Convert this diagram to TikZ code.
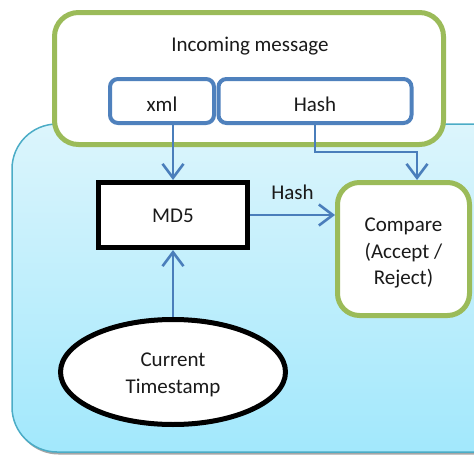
\documentclass[tikz,border=0pt]{standalone}
\usepackage{fontspec}
\setmainfont{Carlito}
\usetikzlibrary{arrows.meta,shapes.geometric,shadows}

\definecolor{msggreen}{HTML}{9BBB59}
\definecolor{partblue}{HTML}{4F81BD}
\definecolor{linkblue}{HTML}{4A7EBB}
\definecolor{zoneedge}{HTML}{4BACC6}
\definecolor{zonetop}{HTML}{DCF5FC}
\definecolor{zonebot}{HTML}{A2E8FC}
\definecolor{inktext}{HTML}{1A1A1A}

\tikzset{
  txt/.style={font=\fontsize{21}{26.5}\selectfont, text=inktext, align=center, inner sep=0pt},
  greenbox/.style={draw=msggreen, line width=5pt, fill=white, inner sep=0pt},
  partbox/.style={draw=partblue, line width=4pt, fill=white, rounded corners=8pt, inner sep=0pt},
  blackbox/.style={draw=black, line width=5pt, fill=white, inner sep=0pt},
  link/.style={draw=linkblue, line width=2.6pt,
    -{Straight Barb[length=14pt,width=21pt,line width=2.6pt]}},
}

\begin{document}
\begin{tikzpicture}[x=1pt, y=-1pt]
  \useasboundingbox (0,0) rectangle (474,455);
  \clip (0,0) rectangle (474,455);

  % processing zone
  \path[draw=zoneedge, line width=1.5pt, rounded corners=45pt,
        top color=zonetop, bottom color=zonebot,
        drop shadow={shadow xshift=1.5pt, shadow yshift=-2.5pt, fill=gray, opacity=0.7}]
    (12,124) rectangle (520,452);

  % incoming message with its two parts
  \node[greenbox, rounded corners=24pt, minimum width=389pt, minimum height=132pt]
    (msg) at (249,78.5) {};
  \node[txt] (title) at (250,46) {Incoming message};
  \node[partbox, minimum width=104pt, minimum height=44pt] (xml) at (162,101) {};
  \node[partbox, minimum width=193pt, minimum height=44pt] (hash) at (315,101) {};
  \node[txt] (xmltext) at ([yshift=-3pt]xml.center) {xml};
  \node[txt] (hashtext) at ([yshift=-3pt]hash.center) {Hash};

  % hashing and comparison
  \node[blackbox, minimum width=149pt, minimum height=65pt] (md5) at (173,215) {};
  \node[txt] (md5text) at ([yshift=-1pt]md5.center) {MD5};
  \node[greenbox, rounded corners=22pt, minimum width=132pt, minimum height=133pt]
    (cmp) at (403.5,249) {};
  \node[txt] (cmptext) at ([yshift=-4pt]cmp.center) {Compare\\(Accept /\\Reject)};
  \node[ellipse, draw=black, line width=5pt, fill=white,
        minimum width=225pt, minimum height=105pt, inner sep=0pt]
    (ts) at (173,372) {};
  \node[txt] (tstext) at ([yshift=-3pt]ts.center) {Current\\Timestamp};

  % connectors
  \draw[link] (md5.north |- xml.south) -- (md5.north);
  \coordinate (cmpin) at ([xshift=13.5pt]cmp.north);
  \draw[link] (hash.south) -- ++(0,27) -| (cmpin);
  \draw[link] (md5.east) -- (cmp.west |- md5.east)
    node[txt, pos=0.5, above=14pt] (hashlbl) {Hash};
  \draw[link] (ts.north) -- (md5.south);
\end{tikzpicture}
\end{document}
